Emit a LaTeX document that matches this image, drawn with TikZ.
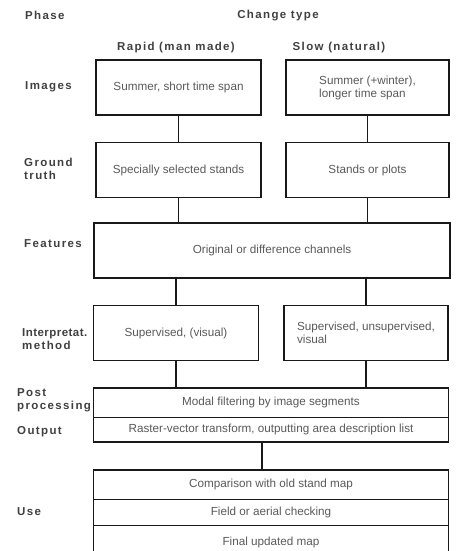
\documentclass[tikz,border=0pt]{standalone}
\usepackage{fontspec}
\setmainfont{Liberation Sans}
\newfontfamily\phasefont[LetterSpace=12]{Liberation Sans}
\usetikzlibrary{positioning}
\tikzset{
  box/.style={draw=black!90, line width=1.6pt, minimum height=55pt, inner sep=0pt,
    align=left, text=black!65, font=\fontsize{11.7}{13}\selectfont},
  row/.style={draw=black!90, line width=0.9pt, minimum width=355pt, inner sep=0pt,
    outer sep=0pt, text=black!65, font=\fontsize{11.7}{13}\selectfont},
  phase/.style={anchor=west, align=left, inner sep=0pt, text=black!75,
    font=\fontsize{11.5}{13}\phasefont\bfseries},
  link/.style={draw=black!90, line width=1.6pt}
}

\begin{document}
\begin{tikzpicture}[x=1pt,y=-1pt]
\useasboundingbox (0,0) rectangle (456,551);

% headings
\node[phase] (phase) at (25,15) {Phase};
\node[phase,anchor=center] (change) at (278,16) {Change type};
\node[phase,anchor=center] (rapid) at (176,48) {Rapid (man made)};
\node[phase,anchor=center] (slow) at (339,48) {Slow (natural)};

% phases down the left side
\node[phase] (images) at (25,87) {Images};
\node[phase] (ground) at (24,169) {Ground\\truth};
\node[phase] (features) at (24,244) {Features};
\node[phase] (interp) at (22,339) {\addfontfeature{LetterSpace=4}Interpretat.\\method};
\node[phase] (post) at (17,400) {Post\\processing};
\node[phase] (output) at (17,432) {Output};
\node[phase] (use) at (17,512) {Use};

% one box per change type
\node[box,minimum width=165pt] (imgL) at (178.5,87.5) {Summer, short time span};
\node[box,minimum width=163pt] (imgR) at (367.5,87.5) {Summer (+winter),\\longer time span};
\node[box,minimum width=165pt] (gtL) at (178.5,170) {Specially selected stands};
\node[box,minimum width=163pt] (gtR) at (367.5,170) {Stands or plots};
\node[box,minimum width=356pt] (feat) at (272,250.5) {Original or difference channels};
\node[box,minimum width=165pt] (intL) at (176,333) {Supervised, (visual)};
\node[box,minimum width=164pt] (intR) at (366,333) {Supervised, unsupervised,\\visual};

% shared steps
\node[row,minimum height=29pt] (pp) at (271,402.5) {Modal filtering by image segments};
\node[row,minimum height=25pt,below=0pt of pp] (out) {Raster-vector transform, outputting area description list};
\draw[link] (pp.north west) rectangle (out.south east);

\node[row,minimum height=29pt] (use1) at (271,484.5) {Comparison with old stand map};
\node[row,minimum height=26pt,below=0pt of use1] (use2) {Field or aerial checking};
\node[row,minimum height=34pt,below=0pt of use2] (use3) {Final updated map};
\draw[link] (use1.north west) rectangle (use3.south east);

\path[link] (imgL.south) edge (gtL.north);
\path[link] (imgR.south) edge (gtR.north);
\path[link] (gtL.south) edge (gtL.south |- feat.north);
\path[link] (gtR.south) edge (gtR.south |- feat.north);
\path[link] (intL.north |- feat.south) edge (intL.north);
\path[link] (intR.north |- feat.south) edge (intR.north);
\path[link] (intL.south) edge (intL.south |- pp.north);
\path[link] (intR.south) edge (intR.south |- pp.north);
\path[link] ([xshift=-9pt]out.south) edge ([xshift=-9pt]use1.north);
\end{tikzpicture}
\end{document}
